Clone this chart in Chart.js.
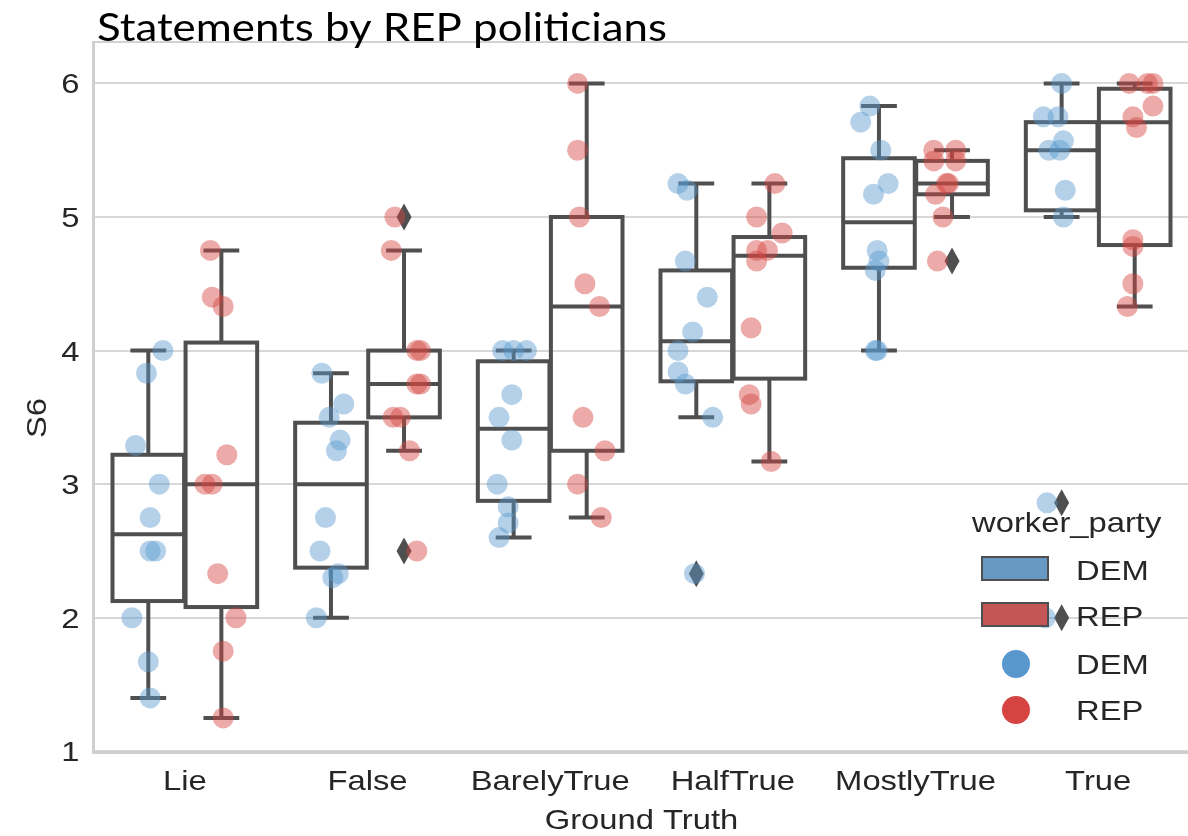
<!DOCTYPE html>
<html>
<head>
<meta charset="utf-8">
<title>Statements by REP politicians</title>
<script src="https://cdn.jsdelivr.net/npm/chart.js@4/dist/chart.umd.min.js"></script>
<style>
  html, body { margin: 0; padding: 0; background: #fff; overflow: hidden; }
  #wrap { width: 1200px; height: 836px; }
</style>
</head>
<body>
<div id="wrap"><canvas id="chart" width="1200" height="836"></canvas></div>
<script>
// ---- data ----
const categories = ['Lie', 'False', 'BarelyTrue', 'HalfTrue', 'MostlyTrue', 'True'];
const yTickValues = [1, 2, 3, 4, 5, 6];

// box summaries (DEM workers)
const demQ1     = [2.125, 2.375, 2.875, 3.77, 4.62, 5.05];
const demMedian = [2.625, 3.0, 3.415, 4.07, 4.96, 5.5];
const demQ3     = [3.22, 3.46, 3.92, 4.6, 5.44, 5.71];
const demLow    = [1.4, 2.0, 2.6, 3.5, 4.0, 5.0];
const demHigh   = [4.0, 3.83, 4.0, 5.25, 5.83, 6.0];
const demFliers = [[], [], [], [2.33], [], [2.86, 2.0]];

// box summaries (REP workers)
const repQ1     = [2.08, 3.5, 3.25, 3.79, 5.17, 4.79];
const repMedian = [3.0, 3.75, 4.33, 4.71, 5.25, 5.71];
const repQ3     = [4.06, 4.0, 5.0, 4.85, 5.42, 5.96];
const repLow    = [1.25, 3.25, 2.75, 3.17, 5.0, 4.33];
const repHigh   = [4.75, 4.75, 6.0, 5.25, 5.5, 6.0];
const repFliers = [[], [5.0, 2.5], [], [], [4.67], []];

// individual ratings per category
const demRatings = [
  [4.0, 3.83, 3.29, 3.0, 2.75, 2.5, 2.5, 2.0, 1.67, 1.4],
  [3.83, 3.6, 3.5, 3.33, 3.25, 2.75, 2.5, 2.33, 2.3, 2.0],
  [4.0, 4.0, 4.0, 3.67, 3.5, 3.33, 3.0, 2.83, 2.71, 2.6],
  [5.25, 5.2, 4.67, 4.4, 4.14, 4.0, 3.84, 3.75, 3.5, 2.33],
  [5.83, 5.71, 5.5, 5.25, 5.17, 4.75, 4.67, 4.6, 4.0, 4.0],
  [6.0, 5.75, 5.75, 5.57, 5.5, 5.5, 5.2, 5.0, 2.86, 2.0]
];
// strip-plot jitter of each rating (category units)
const demJitter = [
  [0.08, -0.01, -0.07, 0.06, 0.01, 0.01, 0.04, -0.09, 0.0, 0.01],
  [-0.05, 0.07, -0.01, 0.05, 0.03, -0.03, -0.06, 0.04, 0.01, -0.08],
  [-0.06, 0.0, 0.07, -0.01, -0.08, -0.01, -0.09, -0.03, -0.03, -0.08],
  [-0.1, -0.05, -0.06, 0.06, -0.02, -0.1, -0.1, -0.06, 0.09, -0.01],
  [-0.05, -0.1, 0.01, 0.05, -0.03, -0.01, 0.0, -0.02, -0.02, -0.01],
  [0.0, -0.1, -0.02, 0.01, -0.07, -0.01, 0.02, 0.01, -0.08, -0.09]
];
const repRatings = [
  [4.75, 4.4, 4.33, 3.22, 3.0, 3.0, 2.33, 2.0, 1.75, 1.25],
  [5.0, 4.75, 4.0, 4.0, 3.75, 3.75, 3.5, 3.5, 3.25, 2.5],
  [6.0, 5.5, 5.0, 4.5, 4.33, 3.5, 3.25, 3.0, 2.75],
  [5.25, 5.0, 4.88, 4.75, 4.75, 4.67, 4.17, 3.67, 3.6, 3.17],
  [5.5, 5.5, 5.42, 5.42, 5.25, 5.25, 5.17, 5.0, 4.67],
  [6.0, 6.0, 6.0, 5.83, 5.75, 5.67, 4.83, 4.78, 4.5, 4.33]
];
const repJitter = [
  [-0.06, -0.05, 0.01, 0.03, -0.09, -0.05, -0.02, 0.08, 0.01, 0.01],
  [-0.05, -0.07, 0.09, 0.07, 0.09, 0.07, -0.06, -0.02, 0.03, 0.07],
  [-0.05, -0.05, -0.04, -0.01, 0.07, -0.02, 0.1, -0.05, 0.08],
  [0.03, -0.07, 0.07, -0.07, -0.01, -0.07, -0.1, -0.11, -0.1, 0.01],
  [-0.1, 0.02, -0.1, 0.02, -0.03, -0.02, -0.09, -0.05, -0.08],
  [-0.03, 0.07, 0.1, 0.1, -0.01, 0.01, -0.01, -0.01, -0.01, -0.04]
];

// ---- styling ----
const HUE_OFFSET = { DEM: -0.2, REP: 0.2 };
const BOX_HALF = 0.196;
const LINE_COLOR = '#4f4f4f';
const DEM_DOT = 'rgb(88,152,207)';
const REP_DOT = 'rgb(213,68,64)';
const DEM_DOT_A = 'rgba(88,152,207,0.45)';
const REP_DOT_A = 'rgba(213,68,64,0.45)';
const DEM_PATCH = 'rgb(104,152,196)';
const REP_PATCH = 'rgb(196,86,86)';
const TEXT_COLOR = '#262626';
const FONT = '"Liberation Sans", Arial, sans-serif';
const SX = 1.17; // horizontal text stretch

function toPoints(values, jitter, offset) {
  const pts = [];
  values.forEach((list, i) => {
    list.forEach((v, k) => pts.push({ x: i + offset + jitter[i][k], y: v }));
  });
  return pts;
}

const boxGroups = [
  { off: HUE_OFFSET.DEM, q1: demQ1, med: demMedian, q3: demQ3, lo: demLow, hi: demHigh, fl: demFliers },
  { off: HUE_OFFSET.REP, q1: repQ1, med: repMedian, q3: repQ3, lo: repLow, hi: repHigh, fl: repFliers }
];

// boxes, whiskers and fliers, drawn under the strip points
const boxPlugin = {
  id: 'boxes',
  beforeDatasetsDraw(chart) {
    const { ctx, scales: { x, y } } = chart;
    ctx.save();
    ctx.strokeStyle = LINE_COLOR;
    ctx.lineWidth = 4;
    ctx.lineCap = 'butt';
    ctx.lineJoin = 'miter';
    const seg = (x1, y1, x2, y2) => {
      ctx.beginPath(); ctx.moveTo(x1, y1); ctx.lineTo(x2, y2); ctx.stroke();
    };
    boxGroups.forEach(g => {
      categories.forEach((c, i) => {
        const xc = i + g.off;
        const xl = x.getPixelForValue(xc - BOX_HALF);
        const xr = x.getPixelForValue(xc + BOX_HALF);
        const xm = x.getPixelForValue(xc);
        const cl = x.getPixelForValue(xc - BOX_HALF / 2);
        const cr = x.getPixelForValue(xc + BOX_HALF / 2);
        const y1 = y.getPixelForValue(g.q1[i]);
        const y3 = y.getPixelForValue(g.q3[i]);
        const ym = y.getPixelForValue(g.med[i]);
        const ylo = y.getPixelForValue(g.lo[i]);
        const yhi = y.getPixelForValue(g.hi[i]);
        // whiskers and caps
        seg(xm, y3, xm, yhi);
        seg(xm, y1, xm, ylo);
        seg(cl, yhi, cr, yhi);
        seg(cl, ylo, cr, ylo);
        // box and median
        ctx.strokeRect(xl, y3, xr - xl, y1 - y3);
        seg(xl, ym, xr, ym);
        // fliers as thin diamonds
        ctx.fillStyle = LINE_COLOR;
        g.fl[i].forEach(v => {
          const yp = y.getPixelForValue(v);
          ctx.beginPath();
          ctx.moveTo(xm, yp - 13.5);
          ctx.lineTo(xm + 7.5, yp);
          ctx.lineTo(xm, yp + 13.5);
          ctx.lineTo(xm - 7.5, yp);
          ctx.closePath();
          ctx.fill();
        });
      });
    });
    ctx.restore();
  }
};

function stretchedText(ctx, text, px, py, align, sx, rotate) {
  ctx.save();
  ctx.translate(px, py);
  if (rotate) ctx.rotate(rotate);
  ctx.scale(sx, 1);
  ctx.textAlign = align;
  ctx.fillText(text, 0, 0);
  ctx.restore();
}

// tick labels, axis titles, chart title and legend
const textPlugin = {
  id: 'texts',
  afterDraw(chart) {
    const { ctx, chartArea: a, scales: { x, y } } = chart;
    ctx.save();
    // top spine
    ctx.strokeStyle = '#d2d2d2';
    ctx.lineWidth = 2;
    ctx.beginPath(); ctx.moveTo(a.left, a.top); ctx.lineTo(a.right, a.top); ctx.stroke();

    ctx.fillStyle = TEXT_COLOR;
    ctx.textBaseline = 'alphabetic';
    ctx.font = '28px ' + FONT;
    // y ticks
    y.ticks.forEach(t => {
      stretchedText(ctx, String(t.value), a.left - 14, y.getPixelForValue(t.value) + 10, 'right', SX);
    });
    // x ticks
    x.ticks.forEach(t => {
      stretchedText(ctx, categories[t.value], x.getPixelForValue(t.value), a.bottom + 38, 'center', SX);
    });
    // axis titles
    stretchedText(ctx, 'Ground Truth', (a.left + a.right) / 2, a.bottom + 77, 'center', SX);
    stretchedText(ctx, 'S6', 46, 418, 'center', SX, -Math.PI / 2);

    // chart title
    ctx.fillStyle = '#000';
    ctx.font = '38px Lato, "Open Sans", sans-serif';
    const title = 'Statements by REP politicians';
    const tw = ctx.measureText(title).width;
    stretchedText(ctx, title, 97, 41, 'left', 570 / tw);

    // legend
    ctx.fillStyle = TEXT_COLOR;
    ctx.font = '28px ' + FONT;
    stretchedText(ctx, 'worker_party', 972, 532, 'left', SX);
    ctx.lineWidth = 2;
    ctx.strokeStyle = LINE_COLOR;
    [[DEM_PATCH, 557, 'DEM'], [REP_PATCH, 603, 'REP']].forEach(([col, top, lab]) => {
      ctx.fillStyle = col;
      ctx.fillRect(982, top, 66, 23);
      ctx.strokeRect(982, top, 66, 23);
      ctx.fillStyle = TEXT_COLOR;
      stretchedText(ctx, lab, 1076, top + 23, 'left', SX);
    });
    [[DEM_DOT, 664, 'DEM'], [REP_DOT, 710, 'REP']].forEach(([col, cy, lab]) => {
      ctx.fillStyle = col;
      ctx.beginPath(); ctx.arc(1016, cy, 14, 0, Math.PI * 2); ctx.fill();
      ctx.fillStyle = TEXT_COLOR;
      stretchedText(ctx, lab, 1076, cy + 10, 'left', SX);
    });
    ctx.restore();
  }
};

new Chart(document.getElementById('chart'), {
  type: 'scatter',
  data: {
    datasets: [
      { label: 'DEM', data: toPoints(demRatings, demJitter, HUE_OFFSET.DEM),
        backgroundColor: DEM_DOT_A, borderWidth: 0, pointRadius: 10.5, pointHoverRadius: 10.5 },
      { label: 'REP', data: toPoints(repRatings, repJitter, HUE_OFFSET.REP),
        backgroundColor: REP_DOT_A, borderWidth: 0, pointRadius: 10.5, pointHoverRadius: 10.5 }
    ]
  },
  options: {
    responsive: false,
    animation: false,
    events: [],
    layout: { padding: { top: 42, right: 9, left: 0, bottom: 0 } },
    plugins: { legend: { display: false }, tooltip: { enabled: false }, title: { display: false } },
    scales: {
      x: {
        type: 'linear', min: -0.5, max: 5.5,
        grid: { display: false },
        border: { display: true, color: '#cfcfcf', width: 3 },
        ticks: { display: false },
        afterBuildTicks: s => { s.ticks = categories.map((c, i) => ({ value: i })); },
        afterFit: s => { s.height = 84; }
      },
      y: {
        type: 'linear', min: 0.995, max: 6.31,
        grid: { color: '#d8d8d8', lineWidth: 2, drawTicks: false },
        border: { display: true, color: '#cfcfcf', width: 3 },
        ticks: { display: false },
        afterBuildTicks: s => { s.ticks = yTickValues.map(v => ({ value: v })); },
        afterFit: s => { s.width = 93.5; }
      }
    }
  },
  plugins: [boxPlugin, textPlugin]
});
</script>
</body>
</html>
